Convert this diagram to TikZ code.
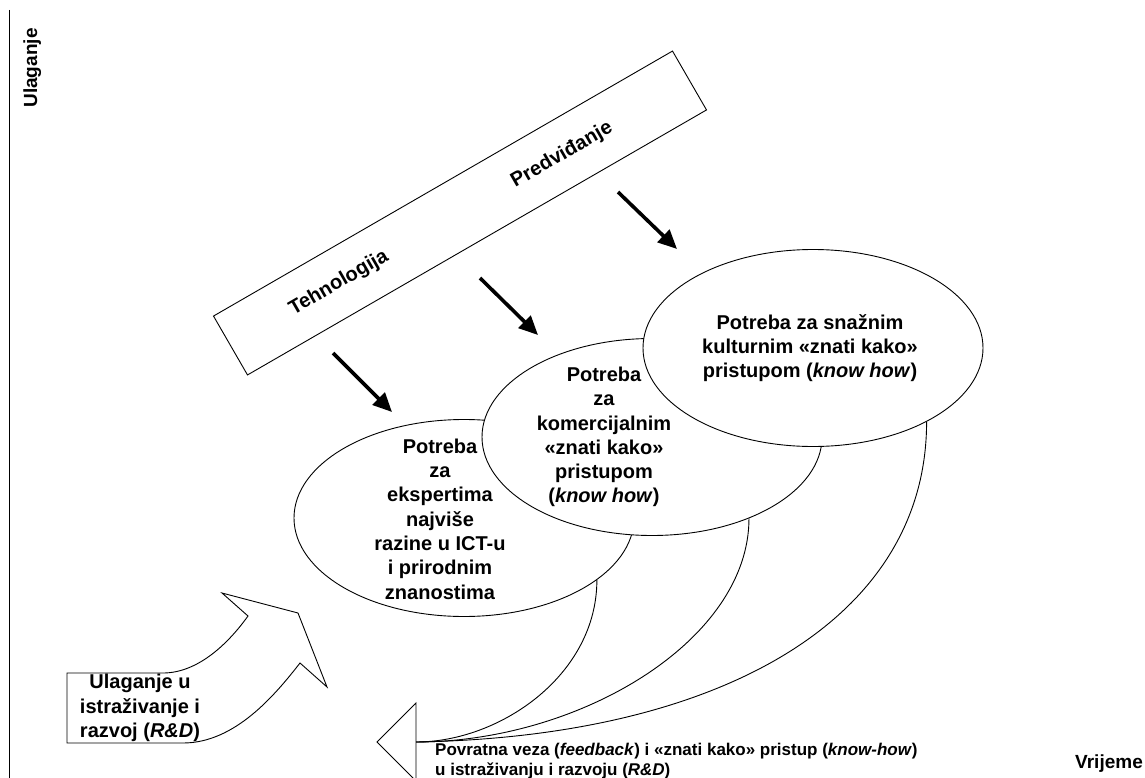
\documentclass[tikz,border=0pt]{standalone}
\usepackage{fontspec}
\setmainfont{Liberation Sans}
\usetikzlibrary{shapes.geometric,arrows.meta}
\begin{document}
\begin{tikzpicture}[x=1pt,y=-1pt,
  outl/.style={line width=0.9pt, draw=black},
  ell/.style={ellipse, outl, fill=white, minimum width=340pt, minimum height=197pt, inner sep=0pt},
  txt/.style={font=\bfseries\fontsize{20}{24.3}\selectfont, align=center, inner sep=0pt},
  smalltxt/.style={font=\bfseries\fontsize{17}{20}\selectfont, align=left, inner sep=0pt},
  bigarrow/.style={line width=3.6pt, -{Triangle[length=19pt,width=17pt]}},
]
\fill[white] (0,0) rectangle (1145,778);
\useasboundingbox (0,0) rectangle (1145,778);

% axis
\coordinate (axtop) at (9,10);
\coordinate (axbot) at (9,778);
\draw[outl] (axtop) -- (axbot);
\node[rotate=90, anchor=base, font=\bfseries\fontsize{19}{22}\selectfont, inner sep=0pt] (ulag) at (37,68) {Ulaganje};
\node[anchor=base east, font=\bfseries\fontsize{19}{22}\selectfont, inner sep=0pt] (vrij) at (1143,768) {Vrijeme};

% technology band
\node[outl, rotate=30, minimum width=530pt, minimum height=68pt, inner sep=0pt] (tech) at (460,213) {};
\node[txt, rotate=30] (tehn) at (339,283) {Tehnologija};
\node[txt, rotate=30] (pred) at (562,155) {Predviđanje};

% ellipses
\node[ell] (E1) at (464,518) {};
\node[ell] (E2) at (652,437) {};
\node[ell] (E3) at (813,348) {};
\node[txt] (t1) at (440,519) {Potreba\\za\\ekspertima\\najviše\\razine u ICT-u\\i prirodnim\\znanostima};
\node[txt] (t2) at (604,437) {Potreba\\za\\komercijalnim\\«znati kako»\\pristupom\\(\textit{know how})};
\node[txt] (t3) at (810,348) {Potreba za snažnim\\kulturnim «znati kako»\\pristupom (\textit{know how})};

% thick arrows
\coordinate (a1s) at (333,353); \coordinate (a1e) at (392,412);
\coordinate (a2s) at (480,278); \coordinate (a2e) at (538,335);
\coordinate (a3s) at (618,192); \coordinate (a3e) at (677,249);
\draw[bigarrow] (a1s) -- (a1e);
\draw[bigarrow] (a2s) -- (a2e);
\draw[bigarrow] (a3s) -- (a3e);

% feedback arrow
\coordinate (fb) at (416,742);
\draw[outl] (416,703) -- (377,742) -- (416,781) -- cycle;
\draw[outl] (E1.-25) .. controls +(0,95) and (500,742) .. (fb);
\draw[outl] (E2.-40) .. controls +(0,122) and (580,742) .. (fb);
\draw[outl] (E3.-33) .. controls +(0,198) and (720,737) .. (fb);
\node[smalltxt, anchor=west] (fbt) at (435,761) {Povratna veza (\textit{feedback}) i «znati kako» pristup (\textit{know-how})\\u istraživanju i razvoju (\textit{R\&D})};

% investment curved arrow
\draw[outl, fill=white] (67,673) -- (163,673) .. controls (195,673) and (225,648) .. (248,616)
  -- (222,593) -- (298,613) -- (327,687) -- (300,663)
  .. controls (275,695) and (235,743) .. (183,743) -- (67,743) -- cycle;
\node[txt] (invt) at (140,708) {Ulaganje u\\istraživanje i\\razvoj (\textit{R\&D})};
\end{tikzpicture}
\end{document}
